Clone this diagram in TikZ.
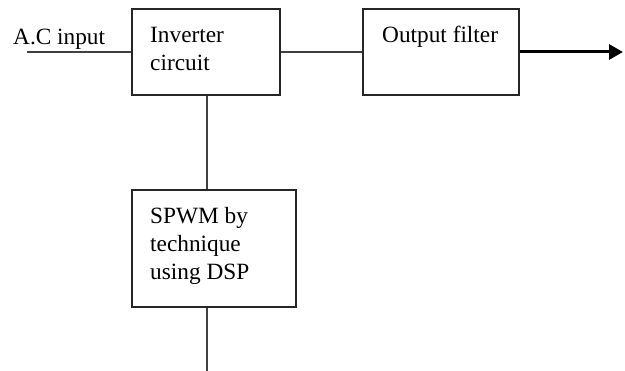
\documentclass[tikz,border=0pt]{standalone}
\usepackage{fontspec}
\setmainfont{Liberation Serif}
\usetikzlibrary{arrows.meta}
\begin{document}
\begin{tikzpicture}[x=1pt,y=-1pt,
  block/.style={draw=black!85,line width=1.5pt,rectangle,inner sep=0pt},
  caption/.style={anchor=base west,inner sep=0pt,align=left,
    font=\fontsize{23.3}{28}\selectfont},
  wire/.style={draw=black!75,line width=1.4pt},
  outarrow/.style={draw=black,line width=3pt,-{Triangle[length=14pt,width=15pt]}}]
\useasboundingbox (0,0) rectangle (625,371);
% blocks
\node[block,minimum width=148pt,minimum height=86pt] (inv) at (206,52) {};
\node[block,minimum width=156pt,minimum height=86pt] (filt) at (441,52) {};
\node[block,minimum width=164pt,minimum height=117pt] (spwm) at (214,248.5) {};
% texts (base anchor sits on the last line)
\node[caption] (invtxt) at (150,71) {Inverter\\circuit};
\node[caption] (filttxt) at (382,43) {Output filter};
\node[caption] (spwmtxt) at (150,280) {SPWM by\\technique\\using DSP};
\node[caption] (actxt) at (13,45) {A.C input};
% connectors
\coordinate (acin) at (27,52);
\coordinate (out) at (623,52);
\coordinate (down) at (207,371);
\draw[wire] (acin) -- (inv.west);
\draw[wire] (inv.east) -- (filt.west);
\draw[wire] (inv.south -| down) -- (spwm.north -| down);
\draw[wire] (spwm.south -| down) -- (down);
\draw[outarrow] (filt.east) -- (out);
\end{tikzpicture}
\end{document}
